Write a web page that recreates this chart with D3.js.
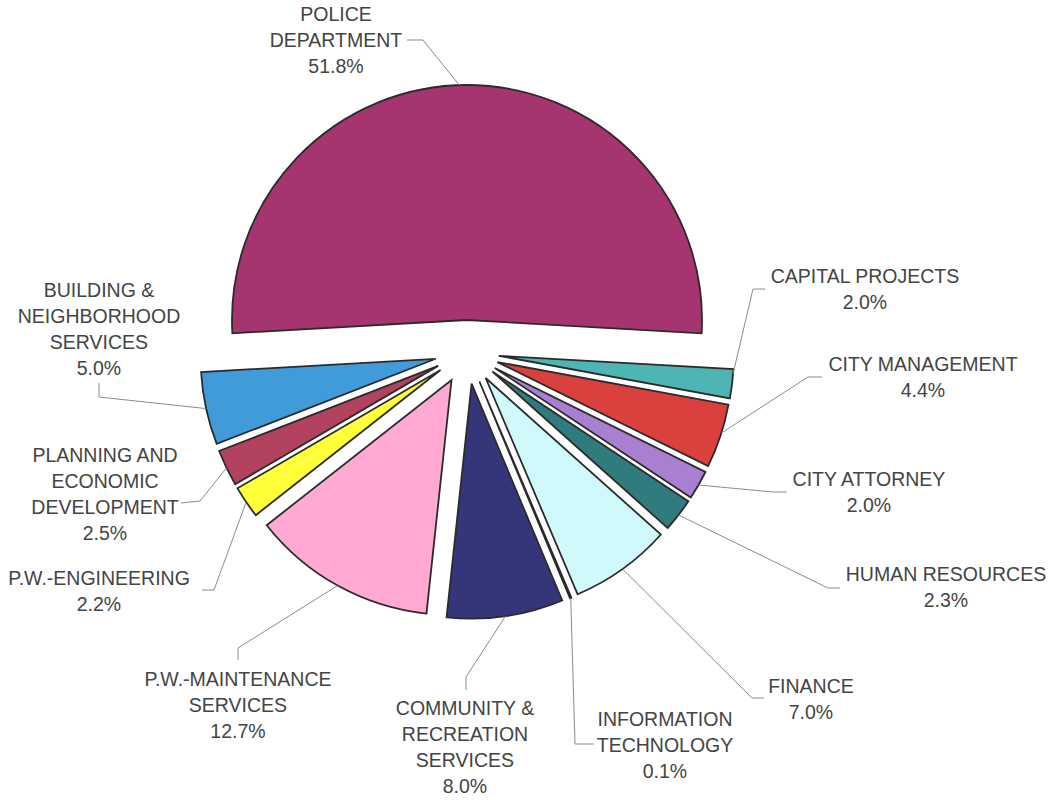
<!DOCTYPE html>
<html>
<head>
<meta charset="utf-8">
<script src="https://cdn.jsdelivr.net/npm/d3@7"></script>
<style>
  body, html { margin: 0; padding: 0; background: #fff; overflow: hidden; }
  svg text { font-family: "Liberation Sans", Arial, Helvetica, sans-serif; fill: #444; }
</style>
</head>
<body>
<svg id="chart" width="1056" height="800"></svg>
<script>
// data
var departments = ["POLICE DEPARTMENT", "CAPITAL PROJECTS", "CITY MANAGEMENT", "CITY ATTORNEY",
  "HUMAN RESOURCES", "FINANCE", "INFORMATION TECHNOLOGY", "COMMUNITY & RECREATION SERVICES",
  "P.W.-MAINTENANCE SERVICES", "P.W.-ENGINEERING", "PLANNING AND ECONOMIC DEVELOPMENT",
  "BUILDING & NEIGHBORHOOD SERVICES"];
var percents = [51.8, 2.0, 4.4, 2.0, 2.3, 7.0, 0.1, 8.0, 12.7, 2.2, 2.5, 5.0];
var labelLines = [
  ["POLICE", "DEPARTMENT"],
  ["CAPITAL PROJECTS"],
  ["CITY MANAGEMENT"],
  ["CITY ATTORNEY"],
  ["HUMAN RESOURCES"],
  ["FINANCE"],
  ["INFORMATION", "TECHNOLOGY"],
  ["COMMUNITY &", "RECREATION", "SERVICES"],
  ["P.W.-MAINTENANCE", "SERVICES"],
  ["P.W.-ENGINEERING"],
  ["PLANNING AND", "ECONOMIC", "DEVELOPMENT"],
  ["BUILDING &", "NEIGHBORHOOD", "SERVICES"]
];
var colors = ["#A6346F", "#4DB6B4", "#D9403E", "#A97FCF", "#2F7B7D", "#CFF9FB",
  "#8A8A7A", "#35357A", "#FFA9D3", "#FFFF3A", "#B3425E", "#419BD9"];

// layout: label centre x, first-line centre y, leader elbow and end, anchor position on the arc
var labelX = [336, 865, 923, 869, 946, 811, 665, 465, 238, 99, 105, 99];
var labelY = [14, 276, 364, 479, 574, 686, 719, 708, 679, 578, 455, 290];
var leaderElbow = [[423, 40], [753, 289], [808, 377], [773, 492], [828, 588], [752, 698],
  [575, 744], [466, 677], [238, 648], [214, 590], [200, 501], [99, 397]];
var leaderEnd = [[407, 40], [765, 289], [822, 377], [787, 492], [840, 588], [764, 698],
  [594, 744], [466, 690], [238, 660], [202, 590], [181, 503], [99, 383]];
var anchorT = [0.49, 0.15, 0.45, 0.5, 0.5, 0.5, 0.5, 0.5, 0.5, 0.5, 0.5, 0.5];

var cx = 467, cy = 352, R = 235, explode = 32;
var lineH = 26;

var svg = d3.select("#chart");
var g = svg.append("g").attr("transform", "translate(" + cx + "," + cy + ")");

var half = percents[0] / 100 * Math.PI;
var pie = d3.pie().sort(null).value(function(d) { return d; })
  .startAngle(-half).endAngle(2 * Math.PI - half);
var arcs = pie(percents);
var arc = d3.arc().innerRadius(0).outerRadius(R);

function offset(d) {
  var m = (d.startAngle + d.endAngle) / 2;
  return [explode * Math.sin(m), -explode * Math.cos(m)];
}

g.selectAll("path.slice").data(arcs).enter().append("path")
  .attr("class", "slice")
  .attr("d", arc)
  .attr("transform", function(d) { var o = offset(d); return "translate(" + o[0] + "," + o[1] + ")"; })
  .attr("fill", function(d, i) { return colors[i]; })
  .attr("stroke", "#2b2b2b")
  .attr("stroke-width", 1.8)
  .attr("stroke-linejoin", "miter");

// leader lines
var line = d3.line();
svg.selectAll("path.leader").data(arcs).enter().append("path")
  .attr("class", "leader")
  .attr("fill", "none")
  .attr("stroke", "#8c8c8c")
  .attr("stroke-width", 1)
  .attr("d", function(d, i) {
    var o = offset(d);
    var a = d.startAngle + (d.endAngle - d.startAngle) * anchorT[i];
    var p = [cx + o[0] + R * Math.sin(a), cy + o[1] - R * Math.cos(a)];
    return line([p, leaderElbow[i], leaderEnd[i]]);
  });

// labels
var fmt = d3.format(".1f");
var labels = svg.selectAll("text.lbl").data(departments).enter().append("text")
  .attr("class", "lbl")
  .attr("text-anchor", "middle")
  .attr("font-size", "19.5px");

labels.each(function(name, i) {
  var t = d3.select(this);
  var rows = labelLines[i].concat([fmt(percents[i]) + "%"]);
  rows.forEach(function(r, k) {
    t.append("tspan")
      .attr("x", labelX[i])
      .attr("y", labelY[i] + k * lineH + 7)
      .text(r);
  });
});
</script>
</body>
</html>
